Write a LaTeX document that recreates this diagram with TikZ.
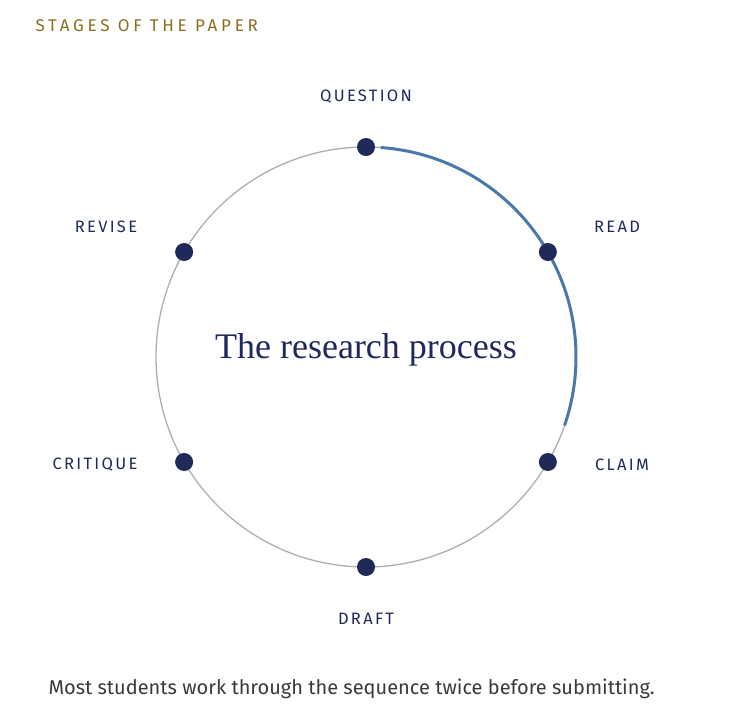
\documentclass[tikz,border=0pt]{standalone}
\usepackage{fontspec}
\setmainfont{Liberation Serif}
\setsansfont{Fira Sans}
\usepackage{tikz}
\usetikzlibrary{calc}
\definecolor{navy}{HTML}{1F2A5A}
\definecolor{steel}{HTML}{4A78A8}
\definecolor{ring}{HTML}{AEADB3}
\definecolor{gold}{HTML}{8B6D1E}
\definecolor{ink}{HTML}{3A3A3A}
\tikzset{
  stage/.style={circle,fill=navy,inner sep=0pt,minimum size=18pt},
  lbl/.style={text=navy,font=\sffamily\fontsize{16.5}{19}\selectfont\addfontfeature{LetterSpace=14}}
}
\begin{document}
\begin{tikzpicture}[x=1pt,y=1pt,yscale=-1]
        \useasboundingbox (0,0) rectangle (735,715);

        % Ring
        \coordinate (c) at (366,357);
        \draw [ring,line width=1.3pt] (c) circle (210);
        \draw [steel,line width=3pt] ($(c)+(-86:210)$) arc (-86:19:210);

        % Stage dots
        \node [stage] (question) at ($(c)+(-90:210)$) {};
        \node [stage] (read) at ($(c)+(-30:210)$) {};
        \node [stage] (claim) at ($(c)+(30:210)$) {};
        \node [stage] (draft) at ($(c)+(90:210)$) {};
        \node [stage] (critique) at ($(c)+(150:210)$) {};
        \node [stage] (revise) at ($(c)+(210:210)$) {};

        % Text Node
        \node [lbl] at (366,97) {QUESTION};
        \node [lbl] at (617,227) {READ};
        \node [lbl] at (622,465) {CLAIM};
        \node [lbl] at (366,619) {DRAFT};
        \node [lbl] at (95,465) {CRITIQUE};
        \node [lbl] at (106,227) {REVISE};
        \node [text=navy,font=\fontsize{36}{40}\selectfont] at (366,350) {The research process};
        \node [anchor=west,text=gold,font=\sffamily\fontsize{17}{19}\selectfont\addfontfeature{LetterSpace=22}] at (32,26) {STAGES OF THE PAPER};
        \node [anchor=west,text=ink,font=\sffamily\fontsize{20}{23}\selectfont] at (45,689) {Most students work through the sequence twice before submitting.};
\end{tikzpicture}
\end{document}
